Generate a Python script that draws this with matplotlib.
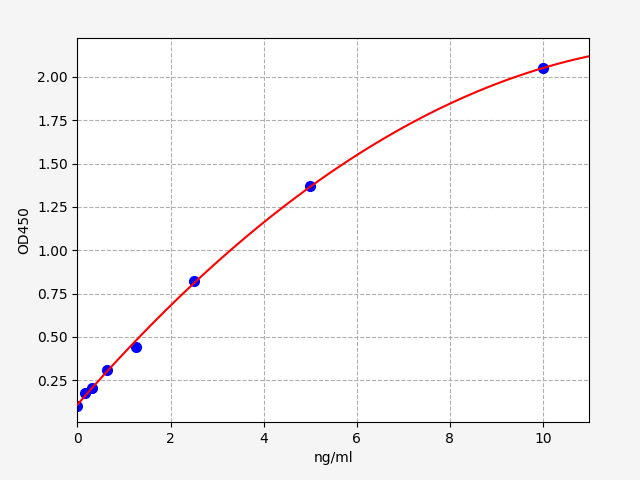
import numpy as np
import matplotlib
matplotlib.use('Agg')
import matplotlib.pyplot as plt

# Standard concentrations (ng/ml) and measured OD450
conc = [0, 0.156, 0.3125, 0.625, 1.25, 2.5, 5, 10]
od450 = [0.103, 0.177, 0.202, 0.308, 0.44, 0.82, 1.37, 2.05]

# fit a smooth standard curve through the points
coef = np.polyfit(conc, od450, 2)
xs = np.linspace(0, 11, 200)
ys = np.polyval(coef, xs)

fig = plt.figure(figsize=(6.4, 4.8), dpi=100, facecolor='#f5f5f5')
ax = fig.add_axes([0.121, 0.121, 0.800, 0.800])

ax.plot(conc, od450, 'o', color='blue', markersize=7, zorder=2)
ax.plot(xs, ys, color='red', linewidth=1.5, zorder=3)

ax.set_xlim(0, 11)
ax.set_ylim(0.009, 2.225)
ax.set_yticks([0.25, 0.5, 0.75, 1.0, 1.25, 1.5, 1.75, 2.0])
ax.set_xlabel('ng/ml')
ax.set_ylabel('OD450')
ax.grid(True, linestyle='--', color='#b0b0b0')
ax.set_axisbelow(True)

fig.savefig('out.png', dpi=100, facecolor=fig.get_facecolor())
